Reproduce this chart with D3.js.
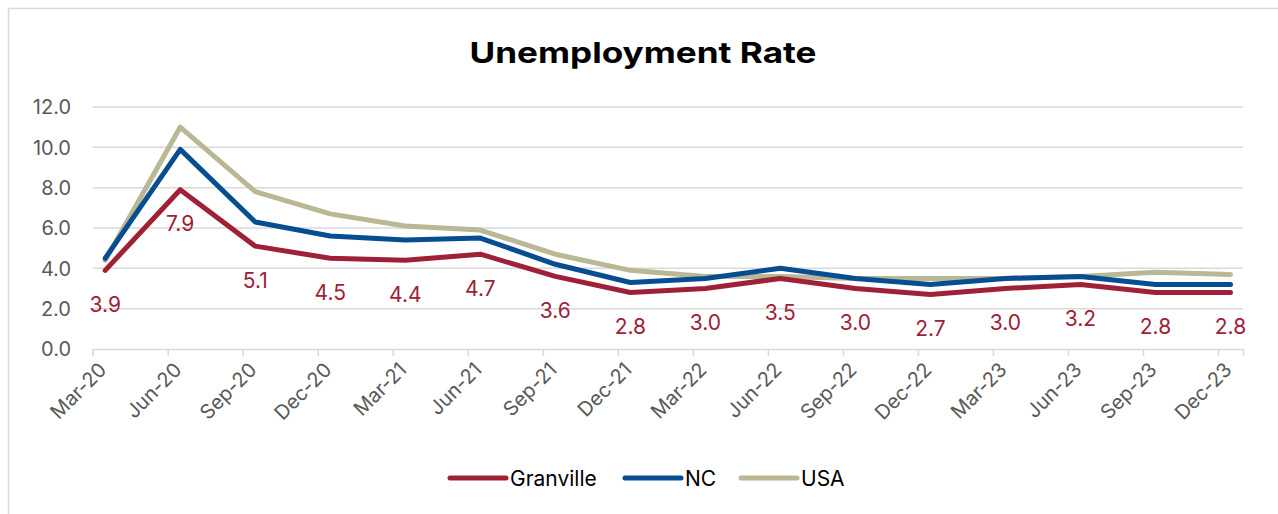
<!DOCTYPE html>
<html>
<head>
<meta charset="utf-8">
<script src="https://cdn.jsdelivr.net/npm/d3@7"></script>
<style>
	html, body { margin: 0; padding: 0; background: #fff; }
	svg { display: block; font-family: Inter, "Noto Sans", sans-serif; }
</style>
</head>
<body>
<svg id="chart" width="1278" height="514"></svg>
<script>
// quarterly observations, Mar-20 .. Dec-23
const quarters = ["Mar-20","Jun-20","Sep-20","Dec-20","Mar-21","Jun-21","Sep-21","Dec-21",
	"Mar-22","Jun-22","Sep-22","Dec-22","Mar-23","Jun-23","Sep-23","Dec-23"];
const granville = [3.9, 7.9, 5.1, 4.5, 4.4, 4.7, 3.6, 2.8, 3.0, 3.5, 3.0, 2.7, 3.0, 3.2, 2.8, 2.8];
const nc = [4.5, 9.9, 6.3, 5.6, 5.4, 5.5, 4.2, 3.3, 3.5, 4.0, 3.5, 3.2, 3.5, 3.6, 3.2, 3.2];
const usa = [4.4, 11.0, 7.8, 6.7, 6.1, 5.9, 4.7, 3.9, 3.6, 3.6, 3.5, 3.5, 3.5, 3.6, 3.8, 3.7];
const yTicks = [0, 2, 4, 6, 8, 10, 12];

const series = [
	{name: "Granville", values: granville, color: "#9E2137"},
	{name: "NC", values: nc, color: "#064D91"},
	{name: "USA", values: usa, color: "#B9B794"}
];

const svg = d3.select("#chart"),
			W = 1278, H = 514;

// outer chart frame (cut off on right/bottom like the source)
svg.append("rect")
	.attr("x", 8.5).attr("y", 8.5)
	.attr("width", W).attr("height", H)
	.attr("fill", "none").attr("stroke", "#d9d9d9").attr("stroke-width", 1.5);

svg.append("text")
	.attr("x", 643).attr("y", 63)
	.attr("text-anchor", "middle")
	.attr("font-size", 29).attr("font-weight", 700).attr("fill", "#000")
	.attr("textLength", 347).attr("lengthAdjust", "spacingAndGlyphs")
	.text("Unemployment Rate");

// date axis in months, points sit mid-month, ticks at month start
const nMonths = quarters.length * 3 - 2;
const x = d3.scaleLinear().domain([0, nMonths]).range([92.7, 1243]);
const y = d3.scaleLinear().domain([0, 12]).range([349, 107]);
const px = i => x(i * 3 + 0.5);

const grid = svg.append("g");
grid.selectAll("line").data(yTicks.filter(d => d > 0)).join("line")
	.attr("x1", x(0)).attr("x2", x(nMonths))
	.attr("y1", d => y(d)).attr("y2", d => y(d))
	.attr("stroke", "#d9d9d9").attr("stroke-width", 1.5);

svg.append("g").selectAll("text").data(yTicks).join("text")
	.attr("x", 71).attr("y", d => y(d))
	.attr("dy", "0.36em")
	.attr("text-anchor", "end")
	.attr("font-size", 20).attr("fill", "#595959")
	.text(d => d3.format(".1f")(d));

const xAxis = d3.axisBottom(x)
	.tickValues(quarters.map((q, i) => i * 3))
	.tickSize(7)
	.tickFormat("");
const gx = svg.append("g").attr("transform", `translate(0,${y(0)})`).call(xAxis);
gx.select(".domain").attr("stroke", "#d9d9d9").attr("stroke-width", 1.5);
gx.selectAll(".tick line").attr("stroke", "#d9d9d9").attr("stroke-width", 1.5);

svg.append("g").selectAll("text").data(quarters).join("text")
	.attr("transform", (d, i) => `translate(${x(i * 3) + 10},${y(0) + 17}) rotate(-45)`)
	.attr("text-anchor", "end")
	.attr("dy", "0.36em")
	.attr("font-size", 20).attr("fill", "#595959")
	.text(d => d);

const line = d3.line().x((d, i) => px(i)).y(d => y(d));

// draw USA first so Granville sits on top
series.slice().reverse().forEach(s => {
	svg.append("path")
		.datum(s.values)
		.attr("d", line)
		.attr("fill", "none")
		.attr("stroke", s.color)
		.attr("stroke-width", 5)
		.attr("stroke-linejoin", "round")
		.attr("stroke-linecap", "round");
});

svg.append("g").selectAll("text").data(granville).join("text")
	.attr("x", (d, i) => px(i))
	.attr("y", d => y(d) + 34)
	.attr("dy", "0.36em")
	.attr("text-anchor", "middle")
	.attr("font-size", 21).attr("fill", "#9E2137")
	.text(d => d3.format(".1f")(d));

// legend
const legendX = [450, 625, 741];
const lg = svg.append("g").selectAll("g").data(series).join("g")
	.attr("transform", (d, i) => `translate(${legendX[i]},478)`);
lg.append("line")
	.attr("x1", 0).attr("x2", 56)
	.attr("stroke", d => d.color).attr("stroke-width", 5)
	.attr("stroke-linecap", "round");
lg.append("text")
	.attr("x", 60).attr("dy", "0.36em")
	.attr("font-size", 21).attr("fill", "#000")
	.text(d => d.name);
</script>
</body>
</html>
